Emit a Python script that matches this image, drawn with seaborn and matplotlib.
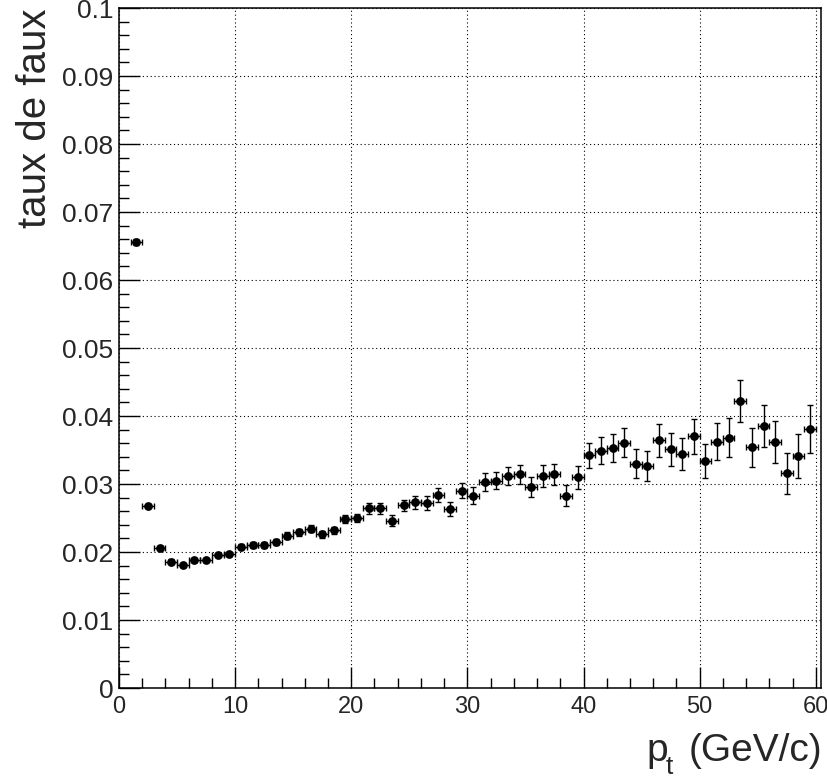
import numpy as np
import pandas as pd
import matplotlib
matplotlib.use("Agg")
import matplotlib.pyplot as plt
from matplotlib.ticker import MultipleLocator, FuncFormatter
import seaborn as sns

# ---- data ----
pt = [1.5, 2.5, 3.5, 4.5, 5.5, 6.5, 7.5, 8.5, 9.5, 10.5,
      11.5, 12.5, 13.5, 14.5, 15.5, 16.5, 17.5, 18.5, 19.5, 20.5,
      21.5, 22.5, 23.5, 24.5, 25.5, 26.5, 27.5, 28.5, 29.5, 30.5,
      31.5, 32.5, 33.5, 34.5, 35.5, 36.5, 37.5, 38.5, 39.5, 40.5,
      41.5, 42.5, 43.5, 44.5, 45.5, 46.5, 47.5, 48.5, 49.5, 50.5,
      51.5, 52.5, 53.5, 54.5, 55.5, 56.5, 57.5, 58.5, 59.5]
rate = [0.0656, 0.0268, 0.0206, 0.0186, 0.0181, 0.0188, 0.0188, 0.0196, 0.0197, 0.0208,
        0.0210, 0.0210, 0.0215, 0.0224, 0.0229, 0.0234, 0.0226, 0.0232, 0.0248, 0.0250,
        0.0264, 0.0264, 0.0246, 0.0269, 0.0273, 0.0272, 0.0284, 0.0263, 0.0290, 0.0283,
        0.0303, 0.0305, 0.0312, 0.0314, 0.0296, 0.0312, 0.0314, 0.0283, 0.0310, 0.0342,
        0.0349, 0.0353, 0.0361, 0.0330, 0.0326, 0.0364, 0.0351, 0.0344, 0.0370, 0.0334,
        0.0362, 0.0368, 0.0422, 0.0354, 0.0385, 0.0362, 0.0316, 0.0341, 0.0381]
rate_err = [0.0004, 0.0003, 0.0003, 0.0003, 0.0003, 0.0003, 0.0003, 0.0003, 0.0003, 0.0004,
            0.0004, 0.0004, 0.0004, 0.0005, 0.0005, 0.0005, 0.0005, 0.0005, 0.0006, 0.0006,
            0.0008, 0.0008, 0.0008, 0.0008, 0.0010, 0.0010, 0.0010, 0.0010, 0.0011, 0.0012,
            0.0013, 0.0013, 0.0013, 0.0014, 0.0015, 0.0016, 0.0016, 0.0016, 0.0017, 0.0018,
            0.0020, 0.0020, 0.0021, 0.0021, 0.0022, 0.0024, 0.0024, 0.0024, 0.0026, 0.0025,
            0.0027, 0.0029, 0.0031, 0.0029, 0.0031, 0.0031, 0.0030, 0.0032, 0.0035]
bin_half_width = [0.5] * len(pt)

x_ticks = [0, 10, 20, 30, 40, 50, 60]
y_ticks = [0, 0.01, 0.02, 0.03, 0.04, 0.05, 0.06, 0.07, 0.08, 0.09, 0.1]

df = pd.DataFrame({"pt": pt, "rate": rate, "err": rate_err, "xerr": bin_half_width})

sns.set_style("ticks")
plt.rcParams["font.family"] = ["Liberation Sans", "DejaVu Sans"]

W, H = 828, 780
fig = plt.figure(figsize=(W / 100, H / 100), dpi=100)
ax = fig.add_axes([119 / W, 92 / H, 702 / W, 680 / H])

ax.errorbar(df["pt"], df["rate"], yerr=df["err"], xerr=df["xerr"], fmt="none",
            ecolor="black", elinewidth=1.0, capsize=2.0, capthick=1.0, zorder=3)
sns.scatterplot(data=df, x="pt", y="rate", ax=ax, color="black", s=40,
                marker="o", edgecolor="black", linewidth=0, zorder=4, legend=False)

ax.set_xlim(0, 60.45)
ax.set_ylim(0, 0.1)
ax.set_xticks(x_ticks)
ax.set_yticks(y_ticks)
ax.xaxis.set_minor_locator(MultipleLocator(2))
ax.yaxis.set_minor_locator(MultipleLocator(0.002))
ax.yaxis.set_major_formatter(FuncFormatter(lambda v, p: f"{v:g}"))
ax.xaxis.set_major_formatter(FuncFormatter(lambda v, p: f"{v:g}"))

ax.tick_params(axis="both", which="both", direction="in", top=False, right=False,
               color="black", width=1.0)
ax.tick_params(axis="both", which="major", length=15)
ax.tick_params(axis="both", which="minor", length=7.5)
ax.tick_params(axis="y", which="major", labelsize=19, pad=4)
ax.tick_params(axis="x", which="major", labelsize=17, pad=6)

for s in ax.spines.values():
    s.set_visible(True)
    s.set_color("black")
    s.set_linewidth(1.1)

ax.grid(True, which="major", color="black", linestyle=(0, (1, 2.5)), linewidth=0.8)
ax.set_axisbelow(False)
ax.set_xlabel("")
ax.set_ylabel("taux de faux", fontsize=29, loc="top", labelpad=0)
ax.yaxis.set_label_coords(-0.092, 1.0)

# x axis title: p_t (GeV/c), with ROOT-style low subscript
fig.text(822 / W, 1 - 761 / H, "(GeV/c)", fontsize=28, ha="right", va="baseline")
fig.text(646 / W, 1 - 761 / H, "p", fontsize=28, ha="left", va="baseline")
fig.text(666 / W, 1 - 779 / H, "t", fontsize=19, ha="left", va="bottom")

fig.savefig("out.png", dpi=100)
